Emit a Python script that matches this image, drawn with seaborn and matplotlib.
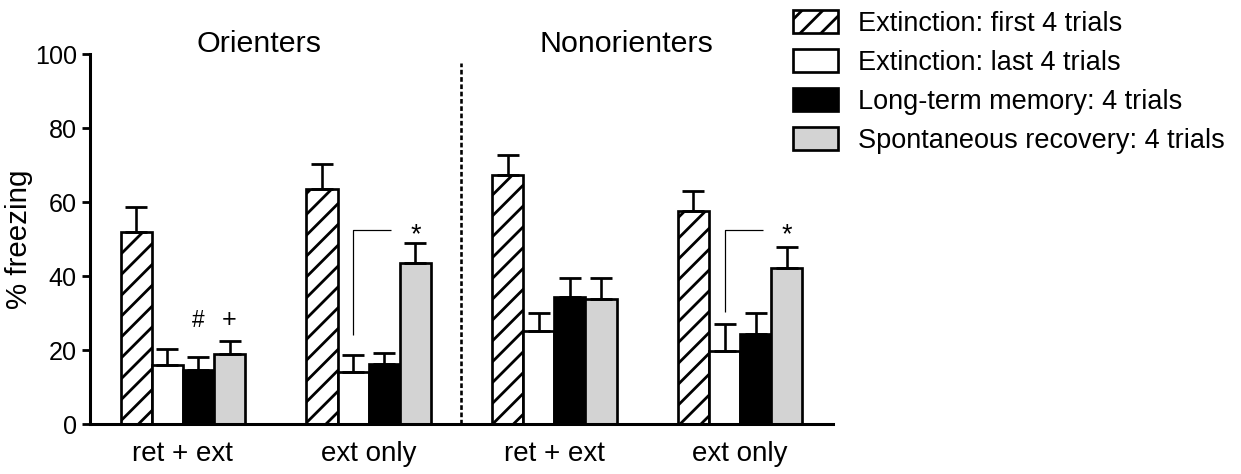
import numpy as np
import pandas as pd
import matplotlib
matplotlib.use("Agg")
import matplotlib.pyplot as plt
import seaborn as sns

# ---------------- data ----------------
group_ids = ["Orienters: ret + ext", "Orienters: ext only",
             "Nonorienters: ret + ext", "Nonorienters: ext only"]
tick_labels = ["ret + ext", "ext only", "ret + ext", "ext only"]
panel_titles = ["Orienters", "Nonorienters"]
conditions = ["Extinction: first 4 trials", "Extinction: last 4 trials",
              "Long-term memory: 4 trials", "Spontaneous recovery: 4 trials"]

first4 = [51.8, 63.5, 67.3, 57.7]
last4 = [16.0, 14.1, 25.1, 19.6]
ltm = [14.6, 16.2, 34.2, 24.3]
spont = [18.9, 43.6, 33.9, 42.1]

first4_sem = [6.8, 6.7, 5.4, 5.4]
last4_sem = [4.2, 4.5, 5.0, 7.4]
ltm_sem = [3.6, 2.9, 5.3, 5.8]
spont_sem = [3.5, 5.2, 5.5, 5.7]

yticks = [0, 20, 40, 60, 80, 100]

means = [first4, last4, ltm, spont]
sems = [first4_sem, last4_sem, ltm_sem, spont_sem]

df = pd.DataFrame({
    "group": [g for _ in conditions for g in group_ids],
    "condition": [c for c in conditions for _ in group_ids],
    "value": [v for m in means for v in m],
})

# ---------------- style ----------------
sns.set_style("ticks")
plt.rcParams["font.family"] = ["Liberation Sans", "DejaVu Sans"]
plt.rcParams["hatch.linewidth"] = 1.6
plt.rcParams["hatch.color"] = "black"
for k in ["text.color", "axes.labelcolor", "xtick.color", "ytick.color", "axes.edgecolor"]:
    plt.rcParams[k] = "black"

DPI = 125
fig = plt.figure(figsize=(1241 / DPI, 474 / DPI), dpi=DPI)
ax = fig.add_axes([90 / 1241, 1 - 424 / 474, (833 - 90) / 1241, (424 - 54) / 474])

colors = ["white", "white", "black", "#d3d3d3"]
sns.barplot(data=df, x="group", y="value", hue="condition",
            order=group_ids, hue_order=conditions, palette=colors,
            saturation=1, width=0.67, edgecolor="black", linewidth=1.55,
            errorbar=None, legend=False, ax=ax, zorder=2)

bar_containers = list(ax.containers)
for p in bar_containers[0].patches:
    p.set_hatch("//")

# error bars (upper only)
for cont, err in zip(bar_containers, sems):
    xs = [p.get_x() + p.get_width() / 2 for p in cont.patches]
    ys = [p.get_height() for p in cont.patches]
    ax.errorbar(xs, ys, yerr=[np.zeros(len(err)), err], fmt="none",
                ecolor="black", elinewidth=1.5, capsize=6.3, capthick=1.6,
                zorder=3)

ax.set_ylim(0, 100)
ax.set_xlim(-0.5, 3.5)
ax.set_yticks(yticks)
ax.set_xticks(range(len(group_ids)))
ax.set_xticklabels(tick_labels)
ax.tick_params(axis="x", length=0, pad=10, labelsize=16)
ax.tick_params(axis="y", length=4.6, width=1.6, pad=3, labelsize=14.5, direction="out")
ax.set_xlabel("")
ax.set_ylabel("% freezing", fontsize=17, labelpad=1)
for s in ["top", "right"]:
    ax.spines[s].set_visible(False)
for s in ["left", "bottom"]:
    ax.spines[s].set_linewidth(1.75)

# divider
ax.axvline(1.5, ymin=0, ymax=0.976, color="black", lw=1.5,
           ls=(0, (1.8, 1.0)), zorder=1)

# panel titles
ax.text(0.41, 100.5, panel_titles[0], ha="center", va="baseline",
        fontsize=17.5, clip_on=False)
ax.text(2.39, 100.5, panel_titles[1], ha="center", va="baseline",
        fontsize=17.5, clip_on=False)

# significance markers
def center(ci, gi):
    p = bar_containers[ci].patches[gi]
    return p.get_x() + p.get_width() / 2

ax.text(center(2, 0), 26.3, "#", ha="center", va="baseline", fontsize=13)
ax.text(center(3, 0), 26.3, "+", ha="center", va="baseline", fontsize=14.5)

for gi, low in [(1, 24.0), (3, 30.4)]:
    xw = center(1, gi)
    ax.plot([xw, xw, xw + 0.205], [low, 52.4, 52.4], color="black", lw=0.7,
            solid_capstyle="butt", zorder=3)
    ax.text(center(3, gi), 49.2, "*", ha="center", va="baseline", fontsize=15.5)

# legend
ax.legend(handles=bar_containers, labels=conditions, loc="upper left",
          bbox_to_anchor=(793 / 1241, 1 - 10 / 474), bbox_transform=fig.transFigure,
          frameon=False, borderpad=0, borderaxespad=0, handlelength=1.66,
          handleheight=0.92, handletextpad=0.74, labelspacing=0.45, fontsize=15.6)

fig.savefig("out.png", dpi=DPI)
